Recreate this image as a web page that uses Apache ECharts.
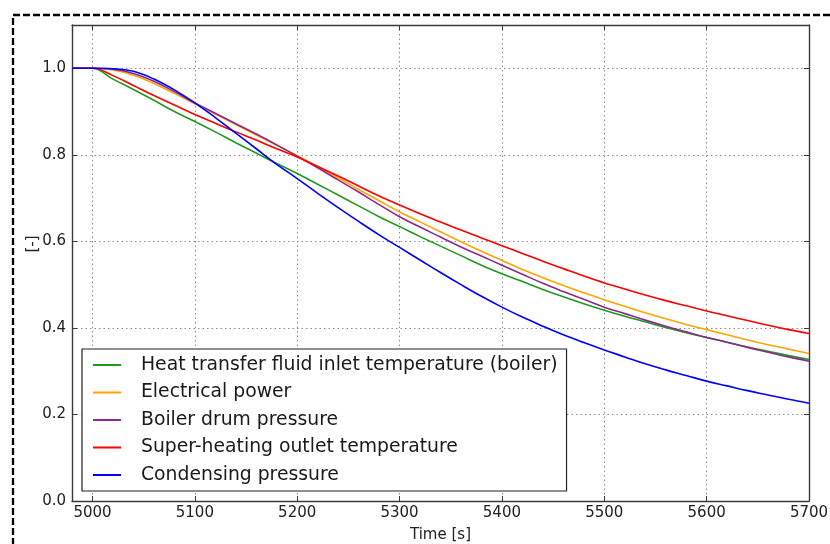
<!DOCTYPE html>
<html>
<head>
<meta charset="utf-8">
<script src="https://cdn.jsdelivr.net/npm/echarts@6/dist/echarts.min.js"></script>
<style>
  html, body { margin: 0; padding: 0; background: #fff; }
  #chart { width: 830px; height: 544px; }
</style>
</head>
<body>
<div id="chart"></div>
<script>
// time axis [s], sampled every 20 s
const times = [4980, 5000, 5020, 5040, 5060, 5080, 5100, 5120, 5140, 5160, 5180, 5200,
  5220, 5240, 5260, 5280, 5300, 5320, 5340, 5360, 5380, 5400, 5420, 5440, 5460, 5480,
  5500, 5520, 5540, 5560, 5580, 5600, 5620, 5640, 5660, 5680, 5700];

// normalised values [-]
const htfInletTemp = [1.000, 1.000, 0.975, 0.951, 0.926, 0.900, 0.877, 0.853, 0.828, 0.804, 0.780, 0.757,
  0.732, 0.707, 0.682, 0.657, 0.634, 0.611, 0.589, 0.567, 0.545, 0.525, 0.507, 0.489, 0.472, 0.456,
  0.441, 0.427, 0.414, 0.401, 0.389, 0.378, 0.367, 0.356, 0.346, 0.336, 0.327];
const electricalPower = [1.000, 1.000, 0.996, 0.984, 0.965, 0.942, 0.918, 0.894, 0.870, 0.846, 0.822, 0.798,
  0.773, 0.747, 0.720, 0.694, 0.668, 0.645, 0.622, 0.599, 0.577, 0.556, 0.535, 0.516, 0.498, 0.481,
  0.465, 0.450, 0.435, 0.421, 0.408, 0.396, 0.384, 0.372, 0.361, 0.351, 0.341];
const drumPressure = [1.000, 1.000, 0.998, 0.988, 0.970, 0.946, 0.920, 0.896, 0.872, 0.848, 0.823, 0.797,
  0.770, 0.742, 0.714, 0.685, 0.657, 0.633, 0.610, 0.587, 0.566, 0.545, 0.524, 0.503, 0.484, 0.466,
  0.448, 0.433, 0.418, 0.404, 0.391, 0.378, 0.367, 0.355, 0.344, 0.333, 0.323];
const superheatOutletTemp = [1.000, 1.000, 0.983, 0.960, 0.937, 0.915, 0.893, 0.873, 0.853, 0.834, 0.814, 0.795,
  0.773, 0.751, 0.728, 0.705, 0.684, 0.664, 0.645, 0.626, 0.608, 0.590, 0.572, 0.554, 0.537, 0.520,
  0.504, 0.490, 0.476, 0.463, 0.451, 0.439, 0.428, 0.417, 0.406, 0.396, 0.387];
const condensingPressure = [1.000, 1.000, 0.999, 0.993, 0.975, 0.950, 0.920, 0.886, 0.850, 0.814, 0.778, 0.745,
  0.711, 0.678, 0.646, 0.615, 0.586, 0.557, 0.528, 0.500, 0.473, 0.448, 0.425, 0.404, 0.384, 0.366,
  0.349, 0.333, 0.317, 0.303, 0.290, 0.277, 0.266, 0.255, 0.245, 0.235, 0.226];

const seriesDefs = [
  { name: 'Heat transfer fluid inlet temperature (boiler)', values: htfInletTemp, color: '#1f9a1f' },
  { name: 'Electrical power', values: electricalPower, color: '#ffa500' },
  { name: 'Boiler drum pressure', values: drumPressure, color: '#8b2a8b' },
  { name: 'Super-heating outlet temperature', values: superheatOutletTemp, color: '#ff0000' },
  { name: 'Condensing pressure', values: condensingPressure, color: '#0000ff' },
];

const FONT = 'DejaVu Sans';
const FRAME = '#3a3a3a';
const GRID_LINE = { show: true, lineStyle: { color: '#8a8a8a', type: [1.5, 3], width: 1 } };

const chart = echarts.init(document.getElementById('chart'), null, { renderer: 'canvas' });

// only label the round ticks (the axis also gets a tick at its min/max edge)
const xTickLabel = (v) => (v % 100 === 0 ? String(v) : '');
const yTickLabel = (v) => (Math.round(v * 10) % 2 === 0 && v <= 1.0001 ? v.toFixed(1) : '');

const xBase = {
  type: 'value',
  min: 4980,
  max: 5700,
  splitNumber: 7,
  minInterval: 100,
  maxInterval: 100,
};

chart.setOption({
  backgroundColor: '#fff',
  animation: false,
  textStyle: { fontFamily: FONT },
  graphic: [
    {
      type: 'rect',
      silent: true,
      shape: { x: 13, y: 15, width: 900, height: 600 },
      style: { fill: 'none', stroke: '#000', lineWidth: 2.3, lineDash: [7, 3] },
    },
  ],
  grid: { left: 72, right: 21, top: 25, bottom: 43, containLabel: false, outerBoundsMode: 'none' },
  legend: {
    orient: 'vertical',
    left: 82,
    top: 349,
    padding: [5, 9, 5, 11],
    icon: 'path://M0,0H14V1H0Z',
    itemWidth: 28,
    itemHeight: 2,
    itemGap: 5.5,
    backgroundColor: '#fff',
    borderColor: '#222',
    borderWidth: 1.2,
    borderRadius: 0,
    textStyle: { fontFamily: FONT, fontSize: 18.8, color: '#1a1a1a', lineHeight: 22, padding: [0, 0, 0, 15] },
    data: seriesDefs.map((s) => s.name),
  },
  xAxis: [
    Object.assign({}, xBase, {
      name: 'Time [s]',
      nameLocation: 'middle',
      nameGap: 27,
      nameMoveOverlap: false,
      nameTextStyle: { fontFamily: FONT, fontSize: 15, color: '#222' },
      axisLine: { show: true, onZero: false, lineStyle: { color: FRAME, width: 1.4 } },
      axisTick: { show: true, inside: true, length: 5, lineStyle: { color: FRAME } },
      axisLabel: { fontFamily: FONT, fontSize: 15, color: '#222', margin: 5, formatter: xTickLabel },
      splitLine: GRID_LINE,
    }),
    Object.assign({}, xBase, {
      position: 'top',
      axisLine: { show: true, onZero: false, lineStyle: { color: FRAME, width: 1.4 } },
      axisTick: { show: true, inside: true, length: 5, lineStyle: { color: FRAME } },
      axisLabel: { show: false },
      splitLine: { show: false },
    }),
  ],
  yAxis: [
    {
      type: 'value',
      min: 0,
      max: 1.1,
      interval: 0.2,
      name: '[-]',
      nameLocation: 'middle',
      nameGap: 31,
      nameMoveOverlap: false,
      nameRotate: 90,
      nameTextStyle: { fontFamily: FONT, fontSize: 15, color: '#222', padding: [0, 0, 0, 38] },
      axisLine: { show: true, onZero: false, lineStyle: { color: FRAME, width: 1.4 } },
      axisTick: { show: true, inside: true, length: 5, lineStyle: { color: FRAME } },
      axisLabel: { fontFamily: FONT, fontSize: 15, color: '#222', margin: 6, formatter: yTickLabel },
      splitLine: GRID_LINE,
    },
    {
      type: 'value',
      position: 'right',
      min: 0,
      max: 1.1,
      interval: 0.2,
      axisLine: { show: true, onZero: false, lineStyle: { color: FRAME, width: 1.4 } },
      axisTick: { show: true, inside: true, length: 5, lineStyle: { color: FRAME } },
      axisLabel: { show: false },
      splitLine: { show: false },
    },
  ],
  series: seriesDefs.map((s) => ({
    name: s.name,
    type: 'line',
    xAxisIndex: 0,
    yAxisIndex: 0,
    data: times.map((t, i) => [t, s.values[i]]),
    symbol: 'none',
    smooth: 0.4,
    color: s.color,
    lineStyle: { color: s.color, width: 1.6 },
  })),
});
</script>
</body>
</html>
